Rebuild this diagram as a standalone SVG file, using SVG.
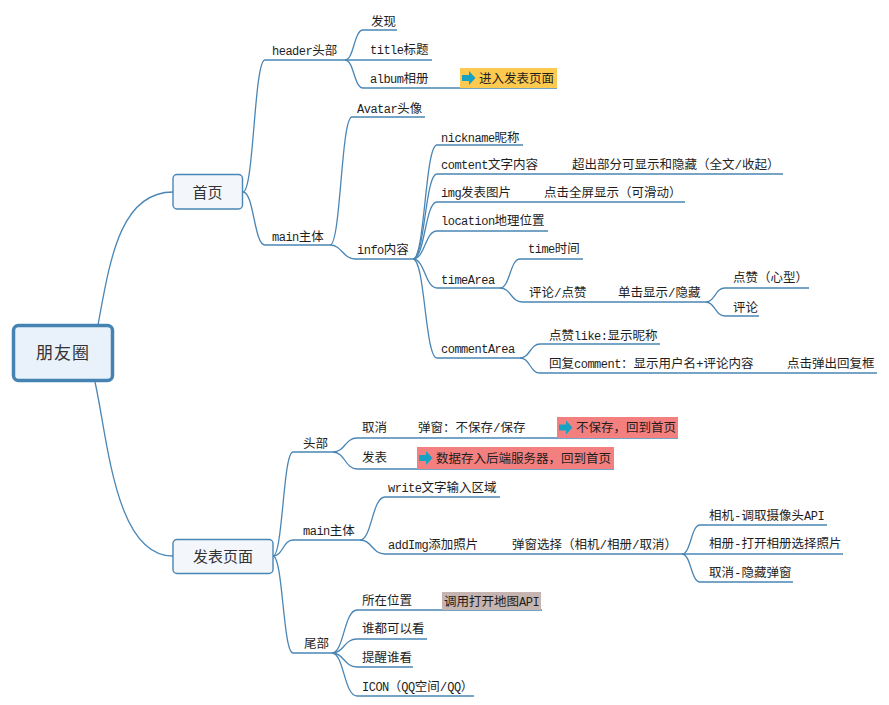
<svg xmlns="http://www.w3.org/2000/svg" width="889" height="705" viewBox="0 0 889 705">
<style>
.c{fill:none;stroke:#4a86b5;stroke-width:1.3}
.t{font-family:"Liberation Mono","Noto Sans CJK SC",monospace;font-size:12.5px;fill:#1e1e1e}
.l{font-family:"Liberation Mono",monospace;font-size:12px;letter-spacing:-0.5px}
.n{font-family:"Noto Sans CJK SC",sans-serif;fill:#333;text-anchor:middle}
.box{fill:#f3f7fc;stroke:#4a86b5;stroke-width:1.4}
.ar{fill:#17a1c3}
</style>
<defs>
<path id="arrow" d="M0,-3 H7 V-7 L13.5,0 L7,7 V3 H0 Z"/>
</defs>
<rect width="889" height="705" fill="#fff"/>
<g id="connectors">
<path class="c" d="M98,325 C110,260 120,192 173,192"/>
<path class="c" d="M95,382 C108,440 115,556 173,556"/>
<path class="c" d="M243,192 C254,192 254,60 265,60 H345"/>
<path class="c" d="M243,192 C254,192 254,245 265,245 H330"/>
<path class="c" d="M345,60 C354,60 354,30 363,30 H397"/>
<path class="c" d="M345,60 H432"/>
<path class="c" d="M345,60 C354,60 354,88 363,88 H557"/>
<path class="c" d="M330,245 C341,245 341,117 352,117 H425"/>
<path class="c" d="M330,245 C342,245 343,259 355,259 H413"/>
<path class="c" d="M413,259 C425,259 425,145 437,145 H523"/>
<path class="c" d="M413,259 C425,259 425,174 437,174 H783"/>
<path class="c" d="M413,259 C425,259 425,202 437,202 H685"/>
<path class="c" d="M413,259 C425,259 425,231 437,231 H548"/>
<path class="c" d="M413,259 C425,259 425,288 437,288 H500"/>
<path class="c" d="M413,259 C425,259 425,358 437,358 H520"/>
<path class="c" d="M500,288 C510,288 510,259 520,259 H583"/>
<path class="c" d="M500,288 C511,288 511,302 522,302 H706"/>
<path class="c" d="M706,302 C715,302 715,288 725,288 H809"/>
<path class="c" d="M706,302 C715,302 715,316 725,316 H759"/>
<path class="c" d="M520,358 C530,358 530,344 540,344 H660"/>
<path class="c" d="M520,358 C530,358 530,373 540,373 H877"/>
<path class="c" d="M273,556 C283,556 283,452 293,452 H333"/>
<path class="c" d="M273,556 C283,556 283,540 293,540 H360"/>
<path class="c" d="M273,556 C283,556 283,653 293,653 H332"/>
<path class="c" d="M333,452 C345,452 345,438 357,438 H678"/>
<path class="c" d="M333,452 C345,452 345,469 357,469 H614"/>
<path class="c" d="M360,540 C372,540 372,497 385,497 H500"/>
<path class="c" d="M360,540 C372,540 372,554 385,554 H682"/>
<path class="c" d="M682,554 C691,554 691,525 700,525 H827"/>
<path class="c" d="M682,554 H843"/>
<path class="c" d="M682,554 C691,554 691,582 700,582 H793"/>
<path class="c" d="M332,653 C344,653 344,610 357,610 H542"/>
<path class="c" d="M332,653 C344,653 344,639 357,639 H427"/>
<path class="c" d="M332,653 C344,653 344,667 357,667 H413"/>
<path class="c" d="M332,653 C344,653 344,696 357,696 H474"/>
</g>
<g id="root">
<rect x="13.5" y="325.5" width="99" height="55" rx="5" fill="#e9f2fb" stroke="#4583b3" stroke-width="3.5"/>
<text class="n" x="63" y="359" font-size="17" letter-spacing="1">朋友圈</text>
</g>
<g id="home">
<rect class="box" x="173" y="174.5" width="69.5" height="34.5" rx="4"/>
<text class="n" x="207.5" y="197.5" font-size="15">首页</text>
</g>
<g id="publish">
<rect class="box" x="173" y="539.5" width="100" height="34" rx="4"/>
<text class="n" x="223" y="561.5" font-size="15">发表页面</text>
</g>
<g id="header"><text class="t" x="272" y="54.5"><tspan class="l">header</tspan>头部</text></g>
<g id="faxian"><text class="t" x="371" y="25.5">发现</text></g>
<g id="title"><text class="t" x="370" y="53.5"><tspan class="l">title</tspan>标题</text></g>
<g id="album"><text class="t" x="370" y="82.5"><tspan class="l">album</tspan>相册</text></g>
<g id="callout-enter">
<rect x="460" y="68" width="97" height="20" fill="#fec94f"/>
<use href="#arrow" class="ar" x="462" y="78"/>
<text class="t" x="479" y="83">进入发表页面</text>
</g>
<g id="main-home"><text class="t" x="272" y="240.5"><tspan class="l">main</tspan>主体</text></g>
<g id="avatar"><text class="t" x="357" y="112.5"><tspan class="l">Avatar</tspan>头像</text></g>
<g id="info"><text class="t" x="357" y="253.5"><tspan class="l">info</tspan>内容</text></g>
<g id="nickname"><text class="t" x="441" y="141.5"><tspan class="l">nickname</tspan>昵称</text></g>
<g id="comtent"><text class="t" x="441" y="168.5"><tspan class="l">comtent</tspan>文字内容</text>
<text class="t" x="572" y="168.5">超出部分可显示和隐藏（全文/收起）</text></g>
<g id="img"><text class="t" x="441" y="196.5"><tspan class="l">img</tspan>发表图片</text>
<text class="t" x="544" y="196.5">点击全屏显示（可滑动）</text></g>
<g id="location"><text class="t" x="441" y="224.5"><tspan class="l">location</tspan>地理位置</text></g>
<g id="timeArea"><text class="t" x="441" y="283.5"><tspan class="l">timeArea</tspan></text></g>
<g id="time"><text class="t" x="528" y="252.5"><tspan class="l">time</tspan>时间</text></g>
<g id="comment-like"><text class="t" x="529" y="296.5">评论/点赞</text>
<text class="t" x="618" y="296.5">单击显示/隐藏</text></g>
<g id="like-heart"><text class="t" x="733" y="281.5">点赞（心型）</text></g>
<g id="comment-btn"><text class="t" x="733" y="311.5">评论</text></g>
<g id="commentArea"><text class="t" x="441" y="352.5"><tspan class="l">commentArea</tspan></text></g>
<g id="like-nick"><text class="t" x="549" y="339.5">点赞<tspan class="l">like:</tspan>显示昵称</text></g>
<g id="reply"><text class="t" x="549" y="367.5">回复<tspan class="l">comment</tspan>：显示用户名+评论内容</text>
<text class="t" x="787" y="367.5">点击弹出回复框</text></g>
<g id="pub-head"><text class="t" x="303" y="447.5">头部</text></g>
<g id="cancel"><text class="t" x="362" y="431.5">取消</text>
<text class="t" x="418" y="431.5">弹窗：不保存/保存</text></g>
<g id="callout-nosave">
<rect x="557" y="417" width="121" height="21" fill="#f47f7f"/>
<use href="#arrow" class="ar" x="559" y="427.5"/>
<text class="t" x="576" y="432">不保存，回到首页</text>
</g>
<g id="publish-btn"><text class="t" x="362" y="461.5">发表</text></g>
<g id="callout-save">
<rect x="417" y="447" width="197" height="22" fill="#f47f7f"/>
<use href="#arrow" class="ar" x="419" y="458"/>
<text class="t" x="436" y="462.5">数据存入后端服务器，回到首页</text>
</g>
<g id="main-pub"><text class="t" x="303" y="534.5"><tspan class="l">main</tspan>主体</text></g>
<g id="write"><text class="t" x="388" y="491.5"><tspan class="l">write</tspan>文字输入区域</text></g>
<g id="addImg"><text class="t" x="388" y="548.5"><tspan class="l">addImg</tspan>添加照片</text>
<text class="t" x="512" y="548.5">弹窗选择（相机/相册/取消）</text></g>
<g id="camera"><text class="t" x="709" y="519.5">相机-调取摄像头<tspan class="l">API</tspan></text></g>
<g id="gallery"><text class="t" x="709" y="547.5">相册-打开相册选择照片</text></g>
<g id="cancel-popup"><text class="t" x="709" y="576.5">取消-隐藏弹窗</text></g>
<g id="footer"><text class="t" x="304" y="647.5">尾部</text></g>
<g id="position"><text class="t" x="362" y="604.5">所在位置</text></g>
<g id="callout-map">
<rect x="442" y="592" width="99" height="18" fill="#c5b4b0"/>
<text class="t" x="444" y="605.5">调用打开地图<tspan class="l">API</tspan></text>
</g>
<g id="everyone"><text class="t" x="362" y="632.5">谁都可以看</text></g>
<g id="remind"><text class="t" x="362" y="661.5">提醒谁看</text></g>
<g id="icon"><text class="t" x="362" y="690.5"><tspan class="l">ICON</tspan>（<tspan class="l">QQ</tspan>空间/<tspan class="l">QQ</tspan>）</text></g>
</svg>
